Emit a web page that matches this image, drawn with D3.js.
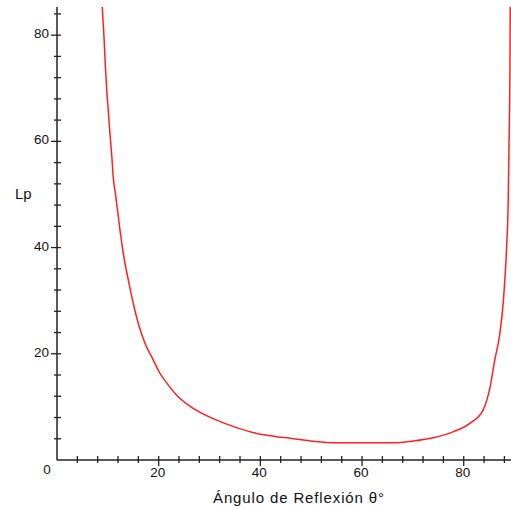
<!DOCTYPE html>
<html><head><meta charset="utf-8">
<script src="https://cdn.jsdelivr.net/npm/d3@7"></script>
<style>
html,body{margin:0;padding:0;background:#fff;}
text{font-family:"Liberation Sans",Arial,sans-serif;fill:#111;}
</style></head>
<body><svg id="c" width="511" height="509"></svg>
<script>
// Data
const theta = [8.9, 9.24, 9.5, 9.77, 10.1, 10.42, 10.8, 11.07, 11.47, 11.74, 12.06, 12.33, 12.59,
  13.04, 14.02, 15.0, 15.99, 17.3, 18.94, 20.26, 21.2, 23.54, 26.8, 31.4, 35.3, 39.3, 43.2, 45.8,
  49.8, 55.3, 60.6, 66.1, 70.1, 74.0, 77.9, 81.2, 83.8, 85.2, 86.1, 87.1, 87.8, 88.4, 88.75, 88.95, 89.1, 89.15];
const lp = [85.3, 79.7, 74.4, 69.8, 65.6, 61.4, 56.9, 53.1, 50.3, 48.2, 45.9, 43.7, 41.9,
  38.9, 33.9, 29.5, 25.7, 22.0, 18.8, 16.3, 15.0, 12.2, 9.7, 7.5, 6.1, 5.0, 4.4, 4.1,
  3.6, 3.25, 3.25, 3.25, 3.6, 4.2, 5.3, 6.9, 9.4, 13.8, 18.8, 23.8, 30, 39.4, 48.8, 62, 75, 85.3];
const xMajor = [20, 40, 60, 80];
const yMajor = [20, 40, 60, 80];
const xLabel = "Ángulo de Reflexión  θ°";
const yLabel = "Lp";

const svg = d3.select("#c");
const x = d3.scaleLinear().domain([0, 89.3]).range([57, 511]);
const y = d3.scaleLinear().domain([0, 85.3]).range([460, 7]);

svg.append("defs").append("clipPath").attr("id","clip")
  .append("rect").attr("x",57).attr("y",7).attr("width",454).attr("height",453);

// curve
const pts = theta.map((t,i)=>[t, lp[i]]);
svg.append("path").datum(pts)
  .attr("clip-path","url(#clip)")
  .attr("d", d3.line().curve(d3.curveMonotoneX).x(d=>x(d[0])).y(d=>y(d[1])))
  .attr("fill","none").attr("stroke","#ff2020").attr("stroke-width",1.5);

const axisColor = "#222";
svg.append("line").attr("x1",x(0)).attr("x2",x(0)).attr("y1",y(85.3)).attr("y2",y(0))
  .attr("stroke",axisColor).attr("stroke-width",1.5);
svg.append("line").attr("x1",x(0)).attr("x2",511).attr("y1",y(0)).attr("y2",y(0))
  .attr("stroke",axisColor).attr("stroke-width",1.5);

const yTicks = d3.range(4, 85, 4);
svg.selectAll(".yt").data(yTicks).join("line")
  .attr("x1", d => yMajor.includes(d) ? x(0)-6 : x(0)-3)
  .attr("x2", d => x(0)+4)
  .attr("y1", d=>y(d)).attr("y2", d=>y(d))
  .attr("stroke",axisColor).attr("stroke-width",1.3);
const xTicks = d3.range(4, 89, 4);
svg.selectAll(".xt").data(xTicks).join("line")
  .attr("x1", d=>x(d)).attr("x2", d=>x(d))
  .attr("y1", d => y(0)-4)
  .attr("y2", d => xMajor.includes(d) ? y(0)+6 : y(0)+3)
  .attr("stroke",axisColor).attr("stroke-width",1.3);

svg.selectAll(".yl").data(yMajor).join("text")
  .attr("x", x(0)-8).attr("y", d=>y(d)+3)
  .attr("text-anchor","end").attr("font-size",13.5).text(d=>d);
svg.selectAll(".xl").data(xMajor).join("text")
  .attr("x", d=>x(d)-1).attr("y", y(0)+17)
  .attr("text-anchor","middle").attr("font-size",13.5).text(d=>d);
svg.append("text").attr("x",47).attr("y",474).attr("text-anchor","middle").attr("font-size",13.5).text("0");

svg.append("text").attr("x",15).attr("y",199).attr("font-size",15).text(yLabel);
svg.append("text").attr("x",213).attr("y",503).attr("font-size",15)
  .attr("textLength",171).attr("lengthAdjust","spacing").text(xLabel);
</script></body></html>
